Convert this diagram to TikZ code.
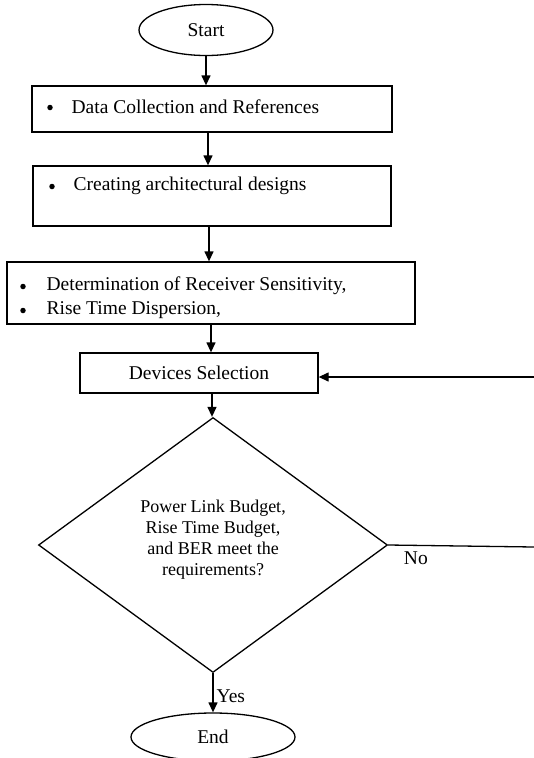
\documentclass[tikz,border=0pt]{standalone}
\usepackage{fontspec}
\setmainfont{Liberation Serif}
\usetikzlibrary{shapes.geometric,arrows.meta}
\begin{document}
\begin{tikzpicture}[x=1pt,y=-1pt, line width=1.3pt,
  box/.style={draw, rectangle, inner sep=0pt},
  txt/.style={font=\fontsize{19.5}{21}\selectfont, inner sep=0pt},
  dtxt/.style={font=\fontsize{18}{21}\selectfont, inner sep=0pt},
  bul/.style={circle, fill, inner sep=0pt, minimum size=5.5pt, line width=0pt},
  arr/.style={-{Triangle[length=10pt,width=9pt]}}]
\useasboundingbox (0,0) rectangle (534,758);
% nodes
\node[draw, ellipse, minimum width=134pt, minimum height=51pt, inner sep=0pt, txt] (start) at (206,30) {Start};
\node[box, minimum width=360pt, minimum height=46pt] (b1) at (212,109) {};
\node[box, minimum width=358pt, minimum height=60pt] (b2) at (212,196) {};
\node[box, minimum width=408pt, minimum height=62pt] (b3) at (211,293) {};
\node[box, minimum width=238pt, minimum height=40pt, txt] (b4) at (199,373) {Devices Selection};
\node[draw, diamond, minimum width=349pt, minimum height=255pt, inner sep=0pt] (dec) at (213,545) {};
\node[dtxt, align=center] (dect) at (213,540)
  {Power Link Budget,\\Rise Time Budget,\\and BER meet the\\requirements?};
\node[draw, ellipse, minimum width=164pt, minimum height=48pt, inner sep=0pt, txt] (end) at (213,737) {End};
% box texts
\node[bul] (bu1) at (50,107.5) {};
\node[txt, anchor=west] (t1) at (71,107) {Data Collection and References};
\node[bul] (bu2) at (52,186.5) {};
\node[txt, anchor=west] (t2) at (73,186) {Creating architectural designs};
\node[bul] (bu3a) at (23,286.5) {};
\node[txt, anchor=west] (t3a) at (46,286) {Determination of Receiver Sensitivity,};
\node[bul] (bu3b) at (23,310.5) {};
\node[txt, anchor=west] (t3b) at (46,310) {Rise Time Dispersion,};
% edge coordinates
\coordinate (r1) at (534,377);
\coordinate (r2) at (534,547);
% connectors
\draw[arr] (start.south) -- (start.south |- b1.north);
\draw[arr] ([xshift=-4pt]b1.south) -- ([xshift=-4pt]b1.south |- b2.north);
\draw[arr] ([xshift=-3pt]b2.south) -- ([xshift=-3pt]b2.south |- b3.north);
\draw[arr] (b3.south) -- (b3.south |- b4.north);
\draw[arr] ([xshift=13pt]b4.south) -- ([xshift=13pt]b4.south |- dec.north);
\draw[arr] (dec.south) -- (end.north) node[txt, pos=0.6, right=3pt] (yes) {Yes};
\draw (dec.east) -- (r2) node[txt, pos=0.19, below=6pt] (no) {No};
\draw[arr] (r1) -- (r1 -| b4.east);
\end{tikzpicture}
\end{document}
